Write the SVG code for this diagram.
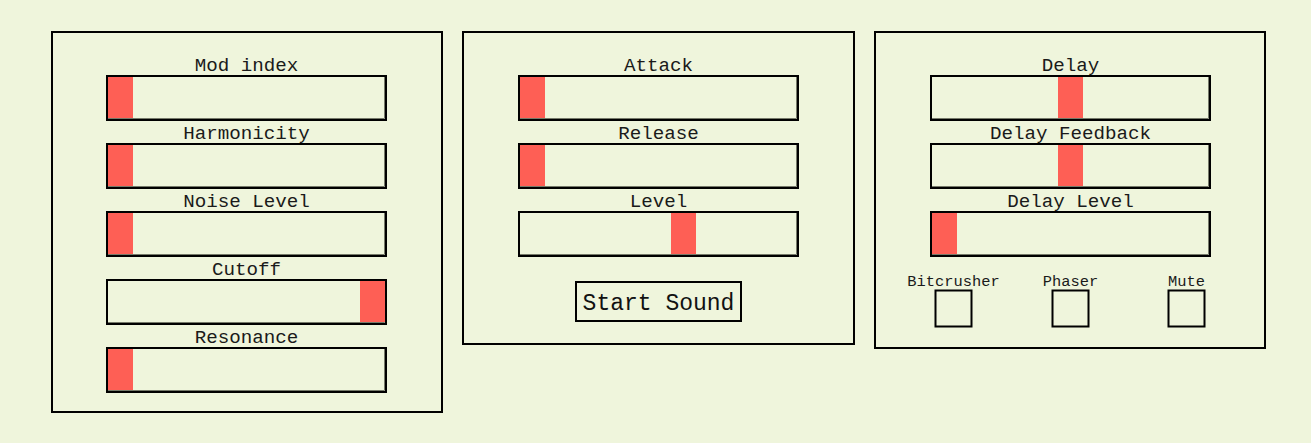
<svg xmlns="http://www.w3.org/2000/svg" width="1311" height="443" viewBox="0 0 1311 443">
<defs>
<style>
.bg{fill:#eff5dc}
.panel{fill:none;stroke:#000;stroke-width:2}
.track{fill:#eff5dc;stroke:#000;stroke-width:2}
.inset{fill:none;stroke:#767a6a;stroke-width:1}
.thumb{fill:#fe5f55}
.lbl{font-family:"Liberation Mono","DejaVu Sans Mono",monospace;font-size:19.2px;fill:#1a1a1a;text-anchor:middle}
.cbl{font-family:"Liberation Mono","DejaVu Sans Mono",monospace;font-size:15.4px;fill:#1a1a1a;text-anchor:middle}
.btn{font-family:"Liberation Mono","DejaVu Sans Mono",monospace;font-size:23px;fill:#111;text-anchor:middle}
.box{fill:none;stroke:#000;stroke-width:2}
</style>
</defs>
<rect class="bg" x="0" y="0" width="1311" height="443"/>

<g id="panel-synth">
<rect class="panel" x="52" y="32" width="390" height="380"/>
<g id="slider-mod-index">
<text class="lbl" x="246.5" y="71">Mod index</text>
<rect class="track" x="107" y="76" width="279" height="44"/>
<path class="inset" d="M108 118.5H384.5V77"/>
<rect class="thumb" x="108" y="77" width="25" height="41"/>
</g>
<g id="slider-harmonicity">
<text class="lbl" x="246.5" y="139">Harmonicity</text>
<rect class="track" x="107" y="144" width="279" height="44"/>
<path class="inset" d="M108 186.5H384.5V145"/>
<rect class="thumb" x="108" y="145" width="25" height="41"/>
</g>
<g id="slider-noise-level">
<text class="lbl" x="246.5" y="207">Noise Level</text>
<rect class="track" x="107" y="212" width="279" height="44"/>
<path class="inset" d="M108 254.5H384.5V213"/>
<rect class="thumb" x="108" y="213" width="25" height="41"/>
</g>
<g id="slider-cutoff">
<text class="lbl" x="246.5" y="275">Cutoff</text>
<rect class="track" x="107" y="280" width="279" height="44"/>
<path class="inset" d="M108 322.5H384.5V281"/>
<rect class="thumb" x="360" y="281" width="25" height="41"/>
</g>
<g id="slider-resonance">
<text class="lbl" x="246.5" y="343">Resonance</text>
<rect class="track" x="107" y="348" width="279" height="44"/>
<path class="inset" d="M108 390.5H384.5V349"/>
<rect class="thumb" x="108" y="349" width="25" height="41"/>
</g>
</g>

<g id="panel-envelope">
<rect class="panel" x="463" y="32" width="391" height="312"/>
<g id="slider-attack">
<text class="lbl" x="658.5" y="71">Attack</text>
<rect class="track" x="519" y="76" width="279" height="44"/>
<path class="inset" d="M520 118.5H796.5V77"/>
<rect class="thumb" x="520" y="77" width="25" height="41"/>
</g>
<g id="slider-release">
<text class="lbl" x="658.5" y="139">Release</text>
<rect class="track" x="519" y="144" width="279" height="44"/>
<path class="inset" d="M520 186.5H796.5V145"/>
<rect class="thumb" x="520" y="145" width="25" height="41"/>
</g>
<g id="slider-level">
<text class="lbl" x="658.5" y="207">Level</text>
<rect class="track" x="519" y="212" width="279" height="44"/>
<path class="inset" d="M520 254.5H796.5V213"/>
<rect class="thumb" x="671" y="213" width="25" height="41"/>
</g>
<g id="button-start-sound">
<rect class="box" x="576" y="282" width="165" height="39"/>
<text class="btn" x="658.5" y="310">Start Sound</text>
</g>
</g>

<g id="panel-effects">
<rect class="panel" x="875" y="32" width="390" height="316"/>
<g id="slider-delay">
<text class="lbl" x="1070.5" y="71">Delay</text>
<rect class="track" x="931" y="76" width="279" height="44"/>
<path class="inset" d="M932 118.5H1208.5V77"/>
<rect class="thumb" x="1058" y="77" width="25" height="41"/>
</g>
<g id="slider-delay-feedback">
<text class="lbl" x="1070.5" y="139">Delay Feedback</text>
<rect class="track" x="931" y="144" width="279" height="44"/>
<path class="inset" d="M932 186.5H1208.5V145"/>
<rect class="thumb" x="1058" y="145" width="25" height="41"/>
</g>
<g id="slider-delay-level">
<text class="lbl" x="1070.5" y="207">Delay Level</text>
<rect class="track" x="931" y="212" width="279" height="44"/>
<path class="inset" d="M932 254.5H1208.5V213"/>
<rect class="thumb" x="932" y="213" width="25" height="41"/>
</g>
<g id="checkbox-bitcrusher">
<text class="cbl" x="953.5" y="286">Bitcrusher</text>
<rect class="box" x="935.5" y="290.5" width="36" height="36"/>
</g>
<g id="checkbox-phaser">
<text class="cbl" x="1070.5" y="286">Phaser</text>
<rect class="box" x="1052.5" y="290.5" width="36" height="36"/>
</g>
<g id="checkbox-mute">
<text class="cbl" x="1186.5" y="286">Mute</text>
<rect class="box" x="1168.5" y="290.5" width="36" height="36"/>
</g>
</g>

<g id="connectors"></g>
</svg>
